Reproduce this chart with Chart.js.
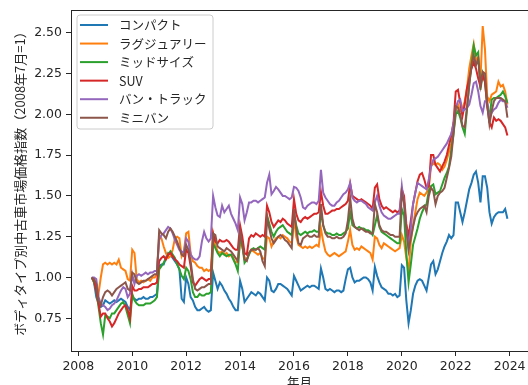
<!DOCTYPE html>
<html lang="ja">
<head>
<meta charset="utf-8">
<title>ボディタイプ別中古車市場価格指数</title>
<script src="https://cdn.jsdelivr.net/npm/chart.js@4.4.1/dist/chart.umd.min.js"></script>
<style>
  html, body { margin: 0; padding: 0; background: #ffffff; }
  #wrap { width: 528px; height: 385px; }
  canvas { display: block; }
</style>
</head>
<body>
<div id="wrap"><canvas id="chart" width="528" height="385"></canvas></div>
<script>
// Monthly index, 2008年7月 = 1, through 2023年12月
const START_YEAR = 2008;
const START_MONTH = 7;

const SERIES_NAMES = ['コンパクト', 'ラグジュアリー', 'ミッドサイズ', 'SUV', 'バン・トラック', 'ミニバン'];

const compact = [
  1.00, 0.97, 0.88, 0.84, 0.82, 0.83,
  0.86, 0.85, 0.84, 0.85, 0.86, 0.85, 0.86, 0.87, 0.86, 0.85, 0.82, 0.80,
  0.88, 0.87, 0.86, 0.87, 0.87, 0.88, 0.87, 0.87, 0.88, 0.88, 0.89, 0.90,
  1.07, 1.08, 1.08, 1.12, 1.15, 1.14, 1.12, 1.10, 1.08, 1.05, 0.87, 0.85,
  1.00, 0.96, 0.88, 0.86, 0.82, 0.80, 0.80, 0.81, 0.82, 0.80, 0.79, 0.80,
  1.03, 0.98, 0.93, 0.97, 0.95, 0.92, 0.90, 0.87, 0.85, 0.82, 0.80, 0.80,
  0.98, 0.93, 0.85, 0.87, 0.89, 0.91, 0.90, 0.89, 0.91, 0.90, 0.88, 0.86,
  1.00, 0.98, 0.92, 0.91, 0.93, 0.96, 0.96, 0.95, 0.94, 0.93, 0.91, 0.89,
  1.01, 0.98, 0.95, 0.92, 0.93, 0.94, 0.95, 0.94, 0.95, 0.95, 0.94, 0.93,
  1.055, 1.00, 0.93, 0.92, 0.93, 0.92, 0.91, 0.92, 0.92, 0.91, 0.92, 0.99,
  1.05, 1.06, 1.00, 0.97, 0.98, 0.98, 0.99, 1.00, 1.00, 0.99, 0.97, 0.92,
  1.065, 1.01, 0.97, 0.94, 0.93, 0.92, 0.90, 0.90, 0.89, 0.90, 0.88, 0.89,
  1.075, 1.06, 0.86, 0.72, 0.80, 0.90, 0.95, 0.98, 0.99, 0.98, 0.95, 0.92,
  1.00, 1.08, 1.10, 1.02, 1.05, 1.10, 1.15, 1.19, 1.22, 1.26, 1.24, 1.26,
  1.46, 1.46, 1.40, 1.34, 1.40, 1.47, 1.54, 1.58, 1.63, 1.65, 1.58, 1.46,
  1.62, 1.62, 1.55, 1.40, 1.33, 1.37, 1.39, 1.40, 1.40, 1.40, 1.42, 1.36
];

const luxury = [
  1.00, 0.98, 0.94, 0.90, 1.00, 1.08,
  1.09, 1.08, 1.09, 1.08, 1.09, 1.08, 1.11, 1.06, 1.05, 1.04, 0.99, 0.98,
  1.17, 1.15, 0.99, 0.97, 0.98, 0.97, 0.98, 0.99, 0.98, 1.00, 1.00, 1.02,
  1.26, 1.24, 1.19, 1.15, 1.12, 1.13, 1.17, 1.24, 1.25, 1.24, 1.13, 1.16,
  1.27, 1.28, 1.15, 1.10, 1.09, 1.07, 1.06, 1.06, 1.04, 1.05, 1.04, 1.05,
  1.27, 1.20, 1.16, 1.15, 1.16, 1.14, 1.15, 1.13, 1.14, 1.12, 1.09, 1.10,
  1.21, 1.19, 1.12, 1.11, 1.15, 1.17, 1.16, 1.15, 1.14, 1.15, 1.12, 1.11,
  1.25, 1.24, 1.19, 1.22, 1.24, 1.25, 1.24, 1.26, 1.25, 1.24, 1.22, 1.21,
  1.36, 1.25, 1.20, 1.19, 1.18, 1.19, 1.18, 1.19, 1.18, 1.19, 1.20, 1.19,
  1.30, 1.22, 1.16, 1.14, 1.13, 1.14, 1.15, 1.14, 1.13, 1.14, 1.15, 1.16,
  1.22, 1.29, 1.20, 1.17, 1.18, 1.17, 1.19, 1.18, 1.17, 1.16, 1.15, 1.11,
  1.25, 1.24, 1.20, 1.18, 1.21, 1.20, 1.19, 1.18, 1.17, 1.16, 1.17, 1.18,
  1.26, 1.22, 1.12, 1.04, 1.22, 1.32, 1.40, 1.48, 1.52, 1.51, 1.50, 1.52,
  1.55, 1.68, 1.70, 1.69, 1.70, 1.69, 1.66, 1.68, 1.72, 1.77, 1.82, 1.90,
  2.02, 2.06, 2.02, 2.03, 2.08, 2.16, 2.28, 2.36, 2.43, 2.33, 2.35, 2.21,
  2.54, 2.40, 2.11, 2.08, 2.12, 2.13, 2.14, 2.20, 2.17, 2.18, 2.14, 2.06
];

const midsize = [
  1.00, 0.97, 0.92, 0.82, 0.72, 0.65,
  0.77, 0.76, 0.75, 0.78, 0.78, 0.80, 0.82, 0.84, 0.85, 0.82, 0.77, 0.72,
  0.90, 0.86, 0.84, 0.83, 0.83, 0.83, 0.84, 0.84, 0.84, 0.85, 0.86, 0.88,
  1.05, 1.07, 1.09, 1.12, 1.14, 1.16, 1.14, 1.12, 1.08, 1.05, 1.01, 0.99,
  1.06, 1.04, 0.99, 0.91, 0.88, 0.88, 0.90, 0.89, 0.89, 0.90, 0.90, 0.91,
  1.21, 1.18, 1.15, 1.13, 1.15, 1.14, 1.13, 1.14, 1.14, 1.11, 1.08, 1.04,
  1.24, 1.20, 1.09, 1.11, 1.14, 1.17, 1.18, 1.17, 1.18, 1.19, 1.18, 1.17,
  1.38, 1.33, 1.28, 1.25, 1.28, 1.30, 1.31, 1.32, 1.30, 1.28, 1.27, 1.26,
  1.39, 1.32, 1.27, 1.26, 1.27, 1.28, 1.27, 1.28, 1.28, 1.29, 1.28, 1.28,
  1.40, 1.32, 1.28, 1.27, 1.27, 1.26, 1.26, 1.27, 1.26, 1.26, 1.27, 1.28,
  1.30, 1.40, 1.32, 1.31, 1.30, 1.31, 1.30, 1.30, 1.29, 1.29, 1.28, 1.26,
  1.32, 1.38, 1.31, 1.28, 1.27, 1.26, 1.25, 1.24, 1.23, 1.22, 1.21, 1.21,
  1.42, 1.38, 1.15, 0.97, 1.08, 1.20, 1.25, 1.30, 1.36, 1.40, 1.43, 1.45,
  1.53, 1.56, 1.57, 1.51, 1.52, 1.53, 1.57, 1.61, 1.64, 1.68, 1.78, 1.88,
  2.00, 2.02, 1.98, 1.92, 1.88, 2.03, 2.18, 2.30, 2.42, 2.36, 2.38, 2.15,
  2.25, 2.20, 2.06, 1.98, 2.09, 2.10, 2.10, 2.11, 2.12, 2.14, 2.11, 2.07
];

const suv = [
  1.00, 0.98, 0.92, 0.84, 0.76, 0.78,
  0.78, 0.75, 0.73, 0.70, 0.72, 0.75, 0.78, 0.80, 0.82, 0.83, 0.80, 0.75,
  0.95, 0.92, 0.92, 0.93, 0.93, 0.94, 0.94, 0.94, 0.95, 0.96, 0.96, 0.97,
  1.10, 1.12, 1.13, 1.11, 1.14, 1.15, 1.13, 1.11, 1.10, 1.08, 1.07, 1.06,
  1.17, 1.15, 1.07, 0.97, 0.95, 0.97, 0.99, 1.00, 0.99, 0.98, 0.99, 0.99,
  1.27, 1.22, 1.21, 1.23, 1.22, 1.22, 1.23, 1.22, 1.20, 1.18, 1.17, 1.17,
  1.32, 1.25, 1.15, 1.14, 1.24, 1.26, 1.25, 1.27, 1.26, 1.25, 1.26, 1.25,
  1.44, 1.40, 1.34, 1.31, 1.33, 1.35, 1.34, 1.36, 1.35, 1.33, 1.32, 1.31,
  1.48, 1.39, 1.35, 1.34, 1.36, 1.37, 1.36, 1.37, 1.38, 1.39, 1.39, 1.40,
  1.525, 1.44, 1.39, 1.39, 1.40, 1.41, 1.41, 1.42, 1.42, 1.43, 1.44, 1.45,
  1.47, 1.575, 1.50, 1.49, 1.48, 1.47, 1.48, 1.47, 1.46, 1.45, 1.44, 1.42,
  1.55, 1.57, 1.48, 1.44, 1.42, 1.43, 1.42, 1.41, 1.40, 1.41, 1.40, 1.41,
  1.54, 1.50, 1.33, 1.25, 1.35, 1.45, 1.52, 1.59, 1.63, 1.64, 1.60, 1.55,
  1.56, 1.75, 1.75, 1.69, 1.67, 1.65, 1.68, 1.71, 1.75, 1.81, 1.87, 1.95,
  2.14, 2.15, 2.07, 1.99, 2.06, 2.16, 2.22, 2.28, 2.32, 2.28, 2.22, 2.17,
  2.24, 2.20, 2.05, 1.95, 1.92, 1.98, 1.96, 1.97, 1.96, 1.94, 1.92, 1.87
];

const vanTruck = [
  1.00, 1.00, 0.99, 0.88, 0.84, 0.83,
  0.82, 0.80, 0.81, 0.83, 0.84, 0.86, 0.89, 0.92, 0.94, 0.93, 0.88, 0.90,
  1.02, 0.96, 1.01, 1.02, 1.01, 1.02, 1.03, 1.02, 1.03, 1.03, 1.04, 1.04,
  1.23, 1.26, 1.27, 1.29, 1.31, 1.30, 1.27, 1.23, 1.20, 1.17, 1.16, 1.15,
  1.24, 1.22, 1.14, 1.12, 1.11, 1.11, 1.13, 1.22, 1.28, 1.24, 1.22, 1.24,
  1.50, 1.43, 1.38, 1.37, 1.44, 1.40, 1.42, 1.44, 1.39, 1.36, 1.33, 1.29,
  1.49, 1.45, 1.35, 1.40, 1.46, 1.46, 1.47, 1.47, 1.46, 1.47, 1.48, 1.49,
  1.58, 1.63, 1.51, 1.53, 1.555, 1.54, 1.52, 1.50, 1.50, 1.49, 1.48, 1.49,
  1.555, 1.55, 1.53, 1.49, 1.43, 1.42, 1.44, 1.45, 1.46, 1.46, 1.45, 1.47,
  1.66, 1.52, 1.49, 1.47, 1.45, 1.44, 1.44, 1.46, 1.47, 1.49, 1.51, 1.52,
  1.54, 1.58, 1.49, 1.47, 1.46, 1.47, 1.47, 1.46, 1.45, 1.43, 1.42, 1.41,
  1.46, 1.50, 1.44, 1.40, 1.38, 1.37, 1.36, 1.36, 1.37, 1.38, 1.39, 1.39,
  1.56, 1.45, 1.30, 1.18, 1.30, 1.45, 1.52, 1.58, 1.57, 1.56, 1.55, 1.54,
  1.60, 1.68, 1.72, 1.73, 1.74, 1.76, 1.78, 1.80, 1.82, 1.85, 1.88, 1.94,
  2.04, 2.08, 2.09, 2.02, 2.03, 2.04, 2.06, 2.12, 2.19, 2.20, 2.14, 2.05,
  2.01, 2.08, 2.08, 1.97, 2.01, 2.03, 2.04, 2.07, 2.09, 2.08, 2.08, 2.04
];

const minivan = [
  1.00, 0.99, 0.96, 0.86, 0.83, 0.88,
  0.91, 0.92, 0.91, 0.89, 0.91, 0.93, 0.94, 0.95, 0.96, 0.97, 0.93, 0.92,
  1.03, 1.02, 0.97, 0.96, 0.97, 0.98, 0.98, 0.99, 1.00, 1.01, 1.02, 1.02,
  1.29, 1.27, 1.26, 1.24, 1.28, 1.30, 1.28, 1.25, 1.22, 1.18, 1.14, 1.13,
  1.20, 1.17, 1.10, 0.99, 0.93, 0.92, 0.93, 0.94, 0.94, 0.95, 0.96, 0.96,
  1.27, 1.26, 1.19, 1.18, 1.17, 1.16, 1.18, 1.17, 1.16, 1.14, 1.12, 1.10,
  1.28, 1.20, 1.11, 1.10, 1.15, 1.17, 1.17, 1.17, 1.18, 1.16, 1.10, 1.07,
  1.37, 1.30, 1.24, 1.21, 1.23, 1.25, 1.26, 1.25, 1.23, 1.22, 1.20, 1.18,
  1.42, 1.30, 1.21, 1.20, 1.24, 1.25, 1.26, 1.25, 1.25, 1.26, 1.25, 1.25,
  1.45, 1.32, 1.27, 1.25, 1.25, 1.24, 1.24, 1.25, 1.24, 1.24, 1.25, 1.27,
  1.35, 1.49, 1.36, 1.31, 1.30, 1.29, 1.30, 1.29, 1.28, 1.28, 1.27, 1.27,
  1.45, 1.40, 1.32, 1.29, 1.28, 1.28, 1.27, 1.26, 1.26, 1.25, 1.25, 1.25,
  1.52, 1.46, 1.30, 1.17, 1.24, 1.31, 1.37, 1.40, 1.42, 1.43, 1.44, 1.40,
  1.50, 1.55, 1.53, 1.45, 1.50, 1.52, 1.53, 1.55, 1.61, 1.67, 1.74, 1.88,
  2.05, 2.04, 2.00, 1.93, 1.92, 2.04, 2.18, 2.30, 2.36, 2.30, 2.34, 2.18,
  2.26, 2.25, 2.06, 1.94, 2.02, 2.08, 2.10, 2.10, 2.10, 2.09, 2.08, 1.98
];

const X_TICKS = [2008, 2010, 2012, 2014, 2016, 2018, 2020, 2022, 2024];
const Y_TICKS = [0.75, 1.00, 1.25, 1.50, 1.75, 2.00, 2.25, 2.50];

const Y_TITLE = 'ボディタイプ別中古車市場価格指数（2008年7月=1）';
const X_TITLE = '年月';

// ---- presentation ----
const COLORS = ['#1f77b4', '#ff7f0e', '#2ca02c', '#d62728', '#9467bd', '#8c564b'];
const INK = '#262626';
const NUM_FONT = "'DejaVu Sans', 'Noto Sans', sans-serif";
const JP_FONT = "'Noto Sans CJK JP', 'Noto Sans', sans-serif";
const X_RANGE = [2007.729, 2024.68];
const Y_RANGE = [0.5496, 2.639];

const seriesValues = [compact, luxury, midsize, suv, vanTruck, minivan];

// decimal year of each monthly observation
const monthPos = i => START_YEAR + (START_MONTH - 1 + i) / 12;

const datasets = seriesValues.map((vals, k) => ({
  label: SERIES_NAMES[k],
  data: vals.map((v, i) => ({ x: monthPos(i), y: v })),
  borderColor: COLORS[k],
  backgroundColor: COLORS[k],
  borderWidth: 2,
  pointRadius: 0,
  pointHoverRadius: 0,
  fill: false,
  tension: 0,
  order: seriesValues.length - k   // later series painted on top
}));

// top spine plus an in-plot legend box
const framePlugin = {
  id: 'frameAndLegend',
  afterDatasetsDraw(chart) {
    const { ctx, chartArea: a } = chart;
    ctx.save();
    ctx.strokeStyle = INK;
    ctx.lineWidth = 1;
    ctx.beginPath();
    ctx.moveTo(a.left, a.top + 0.5);
    ctx.lineTo(a.right, a.top + 0.5);
    ctx.stroke();

    // legend
    const bx = a.left + 6, by = a.top + 5, bw = 136, bh = 114, r = 3;
    ctx.beginPath();
    ctx.moveTo(bx + r, by);
    ctx.lineTo(bx + bw - r, by);
    ctx.arcTo(bx + bw, by, bx + bw, by + r, r);
    ctx.lineTo(bx + bw, by + bh - r);
    ctx.arcTo(bx + bw, by + bh, bx + bw - r, by + bh, r);
    ctx.lineTo(bx + r, by + bh);
    ctx.arcTo(bx, by + bh, bx, by + bh - r, r);
    ctx.lineTo(bx, by + r);
    ctx.arcTo(bx, by, bx + r, by, r);
    ctx.closePath();
    ctx.fillStyle = 'rgba(255,255,255,0.8)';
    ctx.fill();
    ctx.strokeStyle = '#cccccc';
    ctx.lineWidth = 1;
    ctx.stroke();

    ctx.font = `12.5px ${JP_FONT}`;
    ctx.textBaseline = 'middle';
    ctx.textAlign = 'left';
    chart.data.datasets.forEach((ds, k) => {
      const y = by + 10 + k * 18.55;
      ctx.strokeStyle = ds.borderColor;
      ctx.lineWidth = 2;
      ctx.beginPath();
      ctx.moveTo(bx + 3, y);
      ctx.lineTo(bx + 31, y);
      ctx.stroke();
      ctx.fillStyle = INK;
      ctx.fillText(ds.label, bx + 42, y + 0.5);
    });
    ctx.restore();
  }
};

new Chart(document.getElementById('chart'), {
  type: 'line',
  data: { datasets },
  options: {
    responsive: false,
    animation: false,
    devicePixelRatio: 1,
    events: [],
    layout: { padding: { top: 10, left: 0, right: 0, bottom: 0 } },
    plugins: { legend: { display: false }, tooltip: { enabled: false } },
    scales: {
      x: {
        type: 'linear',
        min: X_RANGE[0],
        max: X_RANGE[1],
        afterBuildTicks: s => { s.ticks = X_TICKS.map(v => ({ value: v })); },
        afterFit: s => { s.height = 34; s.paddingLeft = 0; s.paddingRight = 0; },
        ticks: {
          font: { family: NUM_FONT, size: 12.5 },
          color: INK,
          padding: 3,
          maxRotation: 0,
          autoSkip: false,
          callback: v => String(v)
        },
        grid: { drawOnChartArea: false, drawTicks: true, tickLength: 5, tickColor: INK, tickWidth: 1 },
        border: { display: true, color: INK, width: 1 },
        title: {
          display: true,
          text: X_TITLE,
          color: INK,
          font: { family: JP_FONT, size: 12.5, lineHeight: 0.5 },
          padding: 0
        }
      },
      y: {
        type: 'linear',
        min: Y_RANGE[0],
        max: Y_RANGE[1],
        afterBuildTicks: s => { s.ticks = Y_TICKS.map(v => ({ value: v })); },
        afterFit: s => { s.width = 71; s.paddingTop = 0; s.paddingBottom = 0; },
        ticks: {
          font: { family: NUM_FONT, size: 12.5 },
          color: INK,
          padding: 4,
          callback: v => Number(v).toFixed(2)
        },
        grid: { drawOnChartArea: false, drawTicks: true, tickLength: 5, tickColor: INK, tickWidth: 1 },
        border: { display: true, color: INK, width: 1 },
        title: {
          display: true,
          text: Y_TITLE,
          color: INK,
          font: { family: JP_FONT, size: 13, lineHeight: 1.2 },
          padding: { top: 12.5, bottom: 0 }
        }
      }
    }
  },
  plugins: [framePlugin]
});
</script>
</body>
</html>
